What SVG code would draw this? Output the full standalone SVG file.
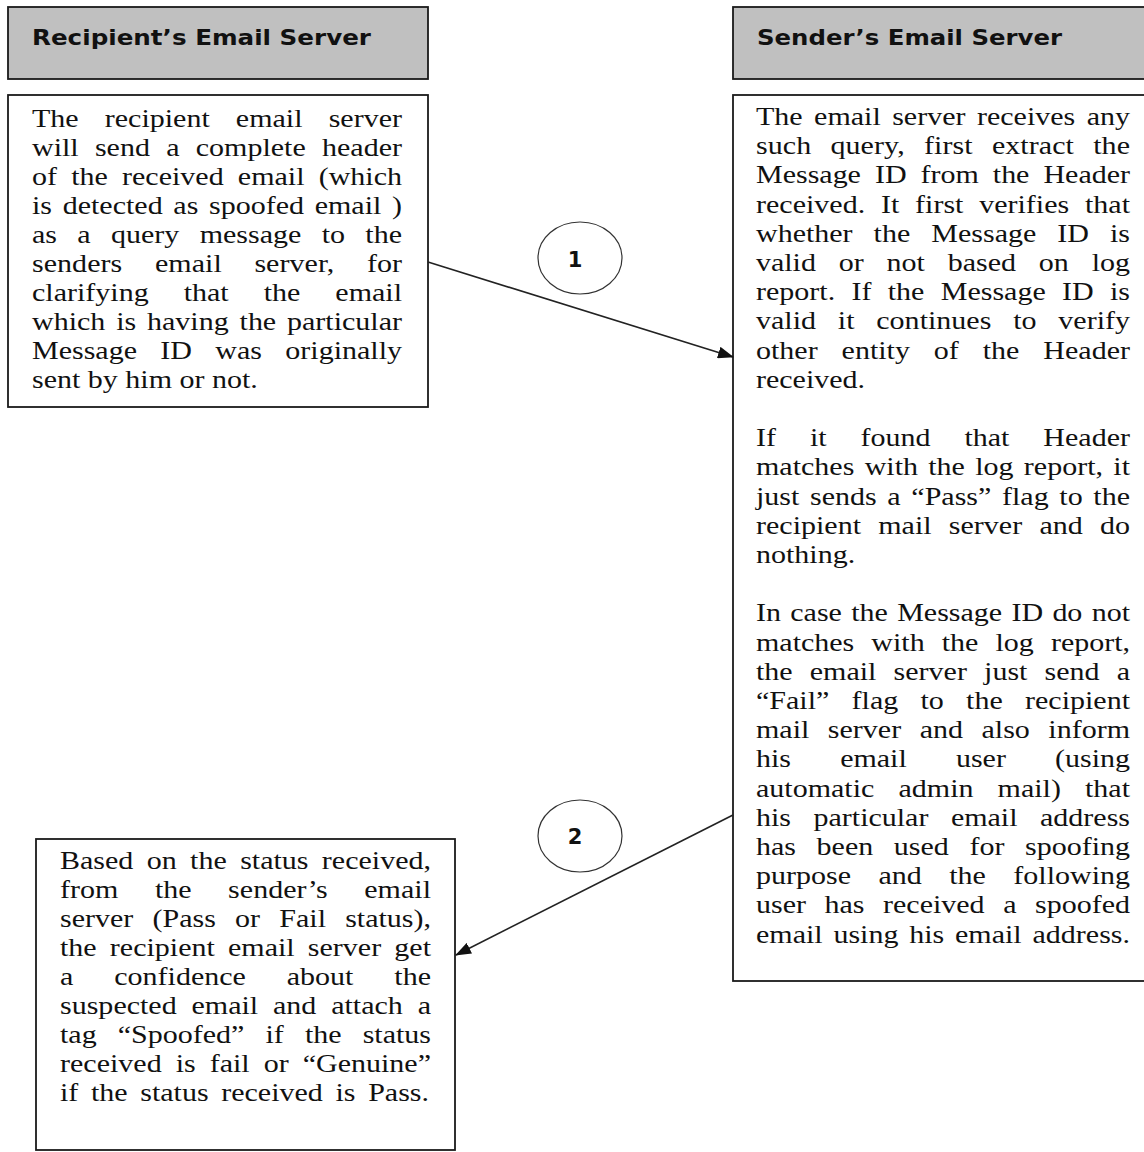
<svg xmlns="http://www.w3.org/2000/svg" width="1144" height="1152" viewBox="0 0 1144 1152">
<style>
.hdr{fill:#c0c0c0;stroke:#1a1a1a;stroke-width:1.8}
.box{fill:#fff;stroke:#1a1a1a;stroke-width:1.8}
.ht{font-family:"DejaVu Sans",Verdana,sans-serif;font-weight:bold;font-size:22px;fill:#111}
.bt{font-family:"Liberation Serif","Times New Roman",serif;font-size:25px;fill:#111}
.num{font-family:"DejaVu Sans",Verdana,sans-serif;font-weight:bold;font-size:21px;fill:#111;text-anchor:middle}
.circ{fill:#fff;stroke:#333;stroke-width:1.2}
.conn{stroke:#222;stroke-width:1.6;fill:none;marker-end:url(#ah)}
</style>
<defs>
<marker id="ah" viewBox="0 0 16 12" refX="15" refY="6" markerWidth="16" markerHeight="12" markerUnits="userSpaceOnUse" orient="auto">
<path d="M0,0 L16,6 L0,12 Z" fill="#111"/>
</marker>
</defs>
<rect width="1144" height="1152" fill="#fff"/>

<g id="recipient-header">
<rect class="hdr" x="8" y="7" width="420" height="72"/>
<text class="ht" x="32" y="45" textLength="339" lengthAdjust="spacingAndGlyphs">Recipient’s Email Server</text>
</g>

<g id="sender-header">
<rect class="hdr" x="733" y="7" width="430" height="72"/>
<text class="ht" x="757" y="45" textLength="305" lengthAdjust="spacingAndGlyphs">Sender’s Email Server</text>
</g>

<g id="recipient-query">
<rect class="box" x="8" y="95" width="420" height="312"/>
<g transform="scale(1.2 1)">
<text class="bt" x="26.667" y="127" word-spacing="15.5" textLength="308.33" lengthAdjust="spacing">The recipient email server</text>
<text class="bt" x="26.667" y="156" word-spacing="7.3" textLength="308.33" lengthAdjust="spacing">will send a complete header</text>
<text class="bt" x="26.667" y="185" word-spacing="5.6" textLength="308.33" lengthAdjust="spacing">of the received email (which</text>
<text class="bt" x="26.667" y="214" word-spacing="2.6" textLength="308.33" lengthAdjust="spacing">is detected as spoofed email )</text>
<text class="bt" x="26.667" y="243" word-spacing="10.7" textLength="308.33" lengthAdjust="spacing">as a query message to the</text>
<text class="bt" x="26.667" y="272" word-spacing="20.9" textLength="308.33" lengthAdjust="spacing">senders email server, for</text>
<text class="bt" x="26.667" y="301" word-spacing="22.9" textLength="308.33" lengthAdjust="spacing">clarifying that the email</text>
<text class="bt" x="26.667" y="330" word-spacing="2.8" textLength="308.33" lengthAdjust="spacing">which is having the particular</text>
<text class="bt" x="26.667" y="359" word-spacing="13.2" textLength="308.33" lengthAdjust="spacing">Message ID was originally</text>
<text class="bt" x="26.667" y="388">sent by him or not.</text>
</g>
</g>

<g id="sender-process">
<rect class="box" x="733" y="95" width="430" height="886"/>
<g transform="scale(1.2 1)">
<text class="bt" x="630" y="125" word-spacing="3.3" textLength="311.67" lengthAdjust="spacing">The email server receives any</text>
<text class="bt" x="630" y="154.2" word-spacing="9.7" textLength="311.67" lengthAdjust="spacing">such query, first extract the</text>
<text class="bt" x="630" y="183.4" word-spacing="5.4" textLength="311.67" lengthAdjust="spacing">Message ID from the Header</text>
<text class="bt" x="630" y="212.6" word-spacing="6.9" textLength="311.67" lengthAdjust="spacing">received. It first verifies that</text>
<text class="bt" x="630" y="241.8" word-spacing="11.3" textLength="311.67" lengthAdjust="spacing">whether the Message ID is</text>
<text class="bt" x="630" y="271" word-spacing="12.8" textLength="311.67" lengthAdjust="spacing">valid or not based on log</text>
<text class="bt" x="630" y="300.2" word-spacing="7.3" textLength="311.67" lengthAdjust="spacing">report. If the Message ID is</text>
<text class="bt" x="630" y="329.4" word-spacing="11.9" textLength="311.67" lengthAdjust="spacing">valid it continues to verify</text>
<text class="bt" x="630" y="358.6" word-spacing="13.7" textLength="311.67" lengthAdjust="spacing">other entity of the Header</text>
<text class="bt" x="630" y="387.8">received.</text>
<text class="bt" x="630" y="446.2" word-spacing="22" textLength="311.67" lengthAdjust="spacing">If it found that Header</text>
<text class="bt" x="630" y="475.4" word-spacing="2.3" textLength="311.67" lengthAdjust="spacing">matches with the log report, it</text>
<text class="bt" x="630" y="504.6" word-spacing="2.6" textLength="311.67" lengthAdjust="spacing">just sends a “Pass” flag to the</text>
<text class="bt" x="630" y="533.8" word-spacing="8.1" textLength="311.67" lengthAdjust="spacing">recipient mail server and do</text>
<text class="bt" x="630" y="563">nothing.</text>
<text class="bt" x="630" y="621.4" word-spacing="1.5" textLength="311.67" lengthAdjust="spacing">In case the Message ID do not</text>
<text class="bt" x="630" y="650.6" word-spacing="8" textLength="311.67" lengthAdjust="spacing">matches with the log report,</text>
<text class="bt" x="630" y="679.8" word-spacing="8" textLength="311.67" lengthAdjust="spacing">the email server just send a</text>
<text class="bt" x="630" y="709" word-spacing="12.3" textLength="311.67" lengthAdjust="spacing">“Fail” flag to the recipient</text>
<text class="bt" x="630" y="738.2" word-spacing="9.2" textLength="311.67" lengthAdjust="spacing">mail server and also inform</text>
<text class="bt" x="630" y="767.4" word-spacing="34.7" textLength="311.67" lengthAdjust="spacing">his email user (using</text>
<text class="bt" x="630" y="796.6" word-spacing="13.8" textLength="311.67" lengthAdjust="spacing">automatic admin mail) that</text>
<text class="bt" x="630" y="825.8" word-spacing="12.5" textLength="311.67" lengthAdjust="spacing">his particular email address</text>
<text class="bt" x="630" y="855" word-spacing="10.9" textLength="311.67" lengthAdjust="spacing">has been used for spoofing</text>
<text class="bt" x="630" y="884.2" word-spacing="16.6" textLength="311.67" lengthAdjust="spacing">purpose and the following</text>
<text class="bt" x="630" y="913.4" word-spacing="9.2" textLength="311.67" lengthAdjust="spacing">user has received a spoofed</text>
<text class="bt" x="630" y="942.6" word-spacing="2.7" textLength="311.67" lengthAdjust="spacing">email using his email address.</text>
</g>
</g>

<g id="recipient-result">
<rect class="box" x="36" y="839" width="419" height="311"/>
<g transform="scale(1.2 1)">
<text class="bt" x="50" y="869" word-spacing="4.9" textLength="309.17" lengthAdjust="spacing">Based on the status received,</text>
<text class="bt" x="50" y="898" word-spacing="24.1" textLength="309.17" lengthAdjust="spacing">from the sender’s email</text>
<text class="bt" x="50" y="927" word-spacing="9.8" textLength="309.17" lengthAdjust="spacing">server (Pass or Fail status),</text>
<text class="bt" x="50" y="956" word-spacing="4.7" textLength="309.17" lengthAdjust="spacing">the recipient email server get</text>
<text class="bt" x="50" y="985" word-spacing="27.8" textLength="309.17" lengthAdjust="spacing">a confidence about the</text>
<text class="bt" x="50" y="1014" word-spacing="6.1" textLength="309.17" lengthAdjust="spacing">suspected email and attach a</text>
<text class="bt" x="50" y="1043" word-spacing="11.3" textLength="309.17" lengthAdjust="spacing">tag “Spoofed” if the status</text>
<text class="bt" x="50" y="1072" word-spacing="5.4" textLength="309.17" lengthAdjust="spacing">received is fail or “Genuine”</text>
<text class="bt" x="50" y="1101" word-spacing="4.3" textLength="307.5" lengthAdjust="spacing">if the status received is Pass.</text>
</g>
</g>

<g id="connectors">
<line class="conn" x1="428" y1="262" x2="733" y2="357"/>
<line class="conn" x1="733" y1="815" x2="456" y2="955"/>
</g>

<g id="step-1">
<ellipse class="circ" cx="580" cy="258" rx="42" ry="36"/>
<text class="num" x="575" y="267">1</text>
</g>

<g id="step-2">
<ellipse class="circ" cx="580" cy="836" rx="42" ry="36"/>
<text class="num" x="575" y="844">2</text>
</g>
</svg>
